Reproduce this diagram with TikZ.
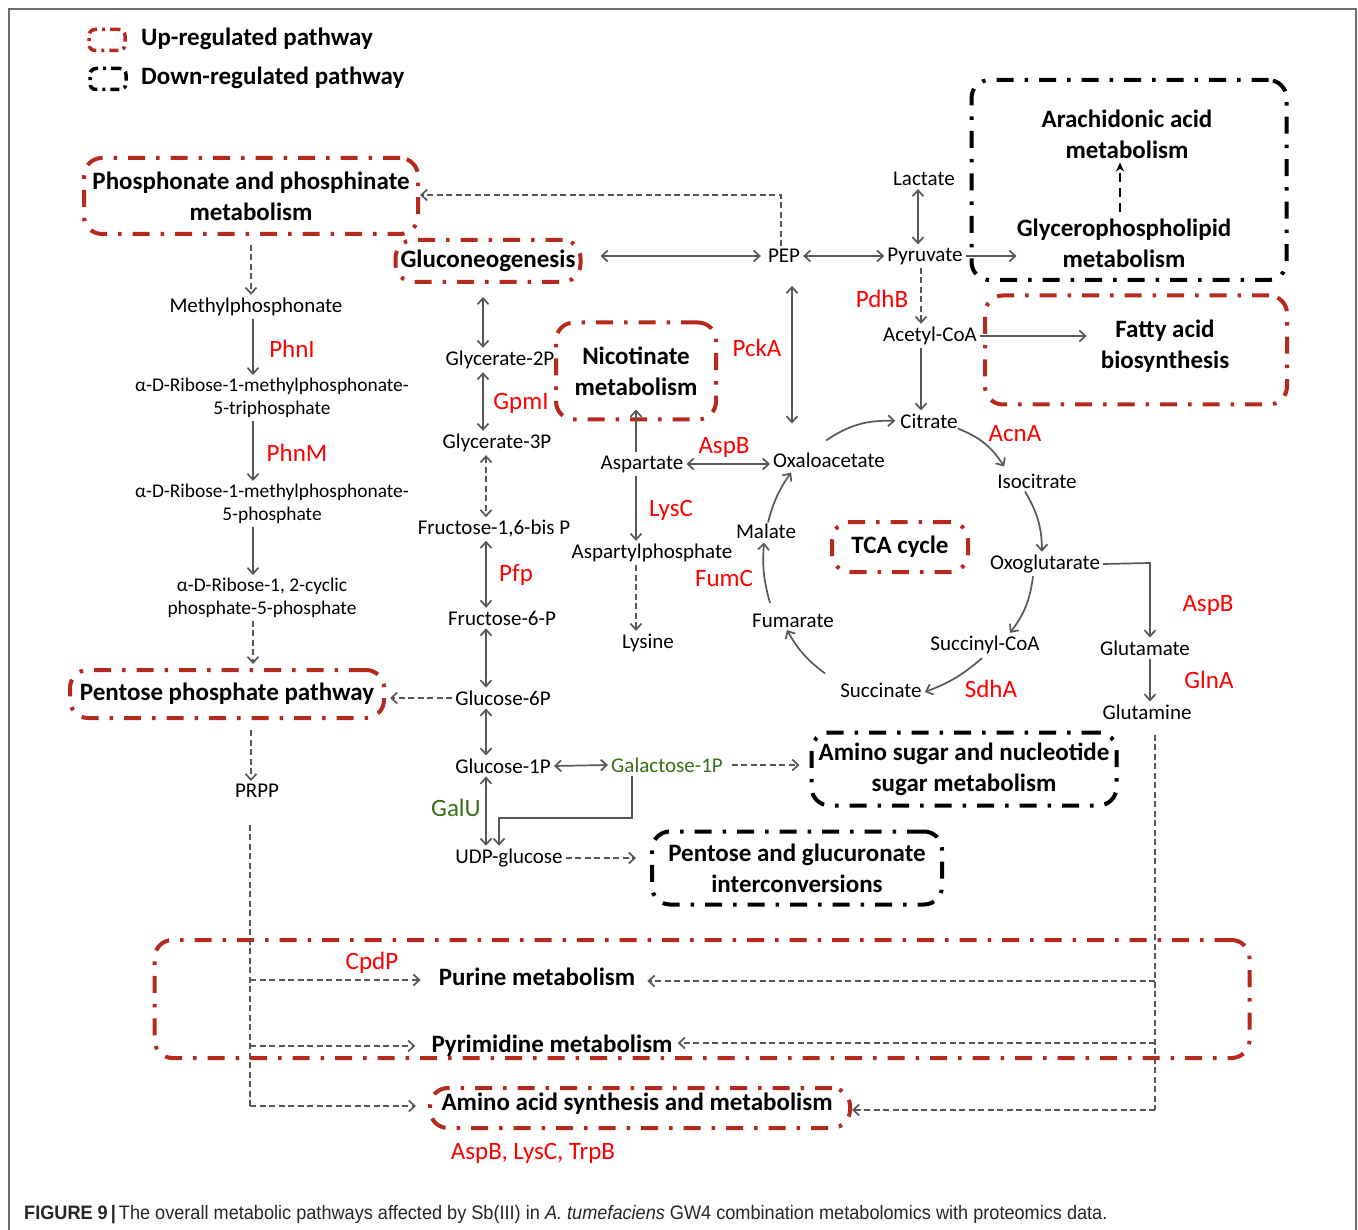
\documentclass[tikz,border=0pt]{standalone}
\usepackage{fontspec}
\setmainfont{Carlito}
\newfontfamily\capfont{Liberation Sans}
\usetikzlibrary{arrows.meta,calc}
\definecolor{boxred}{RGB}{182,42,30}
\definecolor{enzred}{RGB}{255,0,0}
\definecolor{arrgray}{RGB}{88,88,88}
\definecolor{galgreen}{RGB}{56,112,24}
\definecolor{framegray}{RGB}{110,110,110}
\tikzset{gtip/.tip={Straight Barb[length=6pt,width=11pt]},
         btip/.tip={Stealth[length=9pt,width=8pt]}}
\begin{document}
\begin{tikzpicture}[x=1pt,y=-1pt,
 lab/.style={font=\fontsize{21}{24}\selectfont, inner sep=3pt, align=center},
 smlab/.style={font=\fontsize{19.4}{23}\selectfont, inner sep=3pt, align=center},
 enz/.style={text=enzred, font=\fontsize{25}{28}\selectfont, inner sep=0pt},
 grn/.style={text=galgreen},
 pathlab/.style={font=\bfseries\fontsize{25}{31}\selectfont, align=center, inner sep=0pt},
 pbox/.style={pathlab, line width=4pt, dash pattern=on 17pt off 11pt on 3.5pt off 11pt, rounded corners=18pt},
 upbox/.style={pbox, draw=boxred},
 downbox/.style={pbox, draw=black},
 legbox/.style={line width=3.5pt, dash pattern=on 9pt off 5pt on 3pt off 5pt, rounded corners=6pt, inner sep=0pt},
 arr/.style={draw=arrgray, line width=1.7pt, arrows={-gtip}},
 biarr/.style={draw=arrgray, line width=1.7pt, arrows={gtip-gtip}},
 dline/.style={draw=arrgray, line width=1.7pt, dash pattern=on 6pt off 3.5pt},
 darr/.style={arr, dash pattern=on 6pt off 3.5pt},
 dbiarr/.style={biarr, dash pattern=on 6pt off 3.5pt},
]
\useasboundingbox (0,0) rectangle (1358,1230);
\fill[white] (0,0) rectangle (1358,1230);
\draw[framegray, line width=1.2pt] (9,1230) -- (9,9) -- (1356,9) -- (1356,1230);

% legend
\node[legbox, draw=boxred, minimum width=36, minimum height=21] (legup) at (107,40) {};
\node[legbox, draw=black, minimum width=36, minimum height=21] (legdown) at (108,79) {};
\node[pathlab, anchor=west] (legupt) at (141,39) {Up-regulated pathway};
\node[pathlab, anchor=west] (legdownt) at (141,78) {Down-regulated pathway};

% pathway boxes
\node[upbox, minimum width=334, minimum height=76] (phos) at (251,196) {Phosphonate and phosphinate\\metabolism};
\node[upbox, minimum width=185, minimum height=42] (gluco) at (488,261) {Gluconeogenesis};
\node[downbox, minimum width=315, minimum height=200] (arabox) at (1129,180) {};
\node[pathlab] (ara) at (1127,134) {Arachidonic acid\\metabolism};
\node[pathlab] (glyc) at (1124,243) {Glycerophospholipid\\metabolism};
\node[upbox, minimum width=302, minimum height=109] (fabox) at (1136,350) {};
\node[pathlab] (fatty) at (1165,346) {Fatty acid\\biosynthesis};
\node[upbox, minimum width=160, minimum height=97] (nic) at (636,371) {Nicotinate\\metabolism};
\node[upbox, minimum width=136, minimum height=50] (tca) at (900,547) {TCA cycle};
\node[upbox, minimum width=314, minimum height=48] (ppp) at (227,694) {Pentose phosphate pathway};
\node[downbox, minimum width=305, minimum height=73] (amino) at (964,769) {Amino sugar and nucleotide\\sugar metabolism};
\node[downbox, minimum width=290, minimum height=73] (pgbox) at (797,868) {Pentose and glucuronate\\interconversions};
\node[upbox, minimum width=1095, minimum height=118] (nucbox) at (702,999) {};
\node[pathlab] (purine) at (537,977) {Purine metabolism};
\node[pathlab] (pyrim) at (552,1046) {Pyrimidine metabolism};
\node[upbox, minimum width=420, minimum height=40] (aabox) at (640,1108) {};
\node[pathlab] (aa) at (637,1104) {Amino acid synthesis and metabolism};

% left column
\node[lab] (meth) at (256,307) {Methylphosphonate};
\node[smlab] (ribt) at (272,398) {α-D-Ribose-1-methylphosphonate-\\5-triphosphate};
\node[smlab] (ribp) at (272,504) {α-D-Ribose-1-methylphosphonate-\\5-phosphate};
\node[smlab] (ribc) at (262,598) {α-D-Ribose-1, 2-cyclic\\phosphate-5-phosphate};
\node[lab] (prpp) at (257,791) {PRPP};
\node[enz] (phni) at (292,349) {PhnI};
\node[enz] (phnm) at (297,453) {PhnM};

% middle column
\node[lab] (g2p) at (500,360) {Glycerate-2P};
\node[lab] (g3p) at (497,443) {Glycerate-3P};
\node[lab] (f16) at (494,529) {Fructose-1,6-bis P};
\node[lab] (f6p) at (502,618) {Fructose-6-P};
\node[lab] (g6p) at (503,698) {Glucose-6P};
\node[lab] (g1p) at (503,766) {Glucose-1P};
\node[lab] (udp) at (509,858) {UDP-glucose};
\node[lab, grn] (gal) at (667,765) {Galactose-1P};
\node[enz, text=galgreen] (galu) at (456,808) {GalU};
\node[enz] (gpmi) at (521,403) {GpmI};
\node[enz] (pfp) at (516,575) {Pfp};

% right part
\node[lab] (pep) at (784,256) {PEP};
\node[lab] (pyr) at (925,256) {Pyruvate};
\node[lab] (lac) at (924,179) {Lactate};
\node[lab] (acc) at (930,336) {Acetyl-CoA};
\node[lab] (cit) at (929,421) {Citrate};
\node[lab] (iso) at (1037,481) {Isocitrate};
\node[lab] (oxo) at (1045,564) {Oxoglutarate};
\node[lab] (glu) at (1145,648) {Glutamate};
\node[lab] (gln) at (1147,712) {Glutamine};
\node[lab] (suc) at (985,645) {Succinyl-CoA};
\node[lab] (succ) at (881,690) {Succinate};
\node[lab] (fum) at (793,621) {Fumarate};
\node[lab] (mal) at (766,531) {Malate};
\node[lab] (oaa) at (829,460) {Oxaloacetate};
\node[lab] (asp) at (642,464) {Aspartate};
\node[lab] (aspp) at (652,553) {Aspartylphosphate};
\node[lab] (lys) at (648,643) {Lysine};
\node[enz] (pdhb) at (882,299) {PdhB};
\node[enz] (pcka) at (757,348) {PckA};
\node[enz] (aspb1) at (724,447) {AspB};
\node[enz] (lysc) at (671,510) {LysC};
\node[enz] (fumc) at (724,578) {FumC};
\node[enz] (acna) at (1015,434) {AcnA};
\node[enz] (aspb2) at (1208,605) {AspB};
\node[enz] (glna) at (1209,680) {GlnA};
\node[enz] (sdha) at (991,689) {SdhA};
\node[enz] (cpdp) at (372,963) {CpdP};
\node[enz] (aalist) at (533,1153) {AspB, LysC, TrpB};

% helper coordinates
\coordinate (colA) at (253,0);
\coordinate (colB) at (251,0);
\coordinate (colM) at (483,0);
\coordinate (colN) at (486,0);
\coordinate (colL) at (918,0);
\coordinate (colR) at (921,0);
\coordinate (p1) at (250,980);
\coordinate (p2) at (250,1046);
\coordinate (p3) at (250,1106);
\coordinate (q1) at (1155,981);
\coordinate (q2) at (1155,1043);
\coordinate (q3) at (1155,1110);
\coordinate (pk) at (781,195);
\coordinate (gk) at (632,818);
\coordinate (uk) at (499,818);
\coordinate (ok) at (1150,563);
\coordinate (pepx) at (792,0);

% left column connectors
\draw[darr, shorten <=9pt] (phos.south -| colB) -- (meth.north -| colB);
\draw[arr] (meth.south -| colA) -- (ribt.north -| colA);
\draw[arr] (ribt.south -| colA) -- (ribp.north -| colA);
\draw[arr] (ribp.south -| colA) -- (ribc.north -| colA);
\draw[darr, shorten >=4pt] (ribc.south -| colA) -- (ppp.north -| colA);
\draw[darr, shorten <=10pt] (ppp.south -| colB) -- (prpp.north -| colB);
\draw[dline, shorten <=24pt] (prpp.south -| p3) -- (p3);
\draw[darr, shorten >=18pt] (p1) -- (p1 -| purine.west);
\draw[darr, shorten >=16pt] (p2) -- (p2 -| pyrim.west);
\draw[darr, shorten >=12pt] (p3) -- (p3 -| aabox.west);

% glutamine connectors
\draw[dline, shorten <=12pt] (gln.south -| q3) -- (q3);
\draw[darr, shorten >=12pt] (q1) -- (q1 -| purine.east);
\draw[darr, shorten >=5pt] (q2) -- (q2 -| pyrim.east);
\draw[darr] (q3) -- (q3 -| aabox.east);

% glycolysis column
\draw[biarr, shorten <=13pt] (gluco.south -| colM) -- (g2p.north -| colM);
\draw[biarr] (g2p.south -| colM) -- (g3p.north -| colM);
\draw[dbiarr] (g3p.south -| colN) -- (f16.north -| colN);
\draw[biarr] (f16.south -| colN) -- (f6p.north -| colN);
\draw[biarr] (f6p.south -| colN) -- (g6p.north -| colN);
\draw[biarr] (g6p.south -| colN) -- (g1p.north -| colN);
\draw[biarr] (g1p.south -| colN) -- (udp.north -| colN);
\draw[darr, shorten >=4pt] (g6p.west) -- (ppp.east |- g6p.west);
\draw[biarr] (g1p.east) -- (gal.west);
\draw[darr, shorten <=6pt, shorten >=10pt] (gal.east) -- (gal.east -| amino.west);
\draw[arr] (gal.south -| gk) -- (gk) -- (uk) -- (udp.north -| uk);
\draw[darr, shorten >=14pt] (udp.east) -- (udp.east -| pgbox.west);

% PEP area
\draw[biarr, shorten <=18pt, shorten >=4pt] (pep.west -| gluco.east) -- (pep.west);
\draw[darr] (pep.north -| pk) -- (pk) -- (pk -| phos.east);
\draw[biarr] (pep.east) -- (pyr.west);
\draw[biarr] (lac.south -| colL) -- (pyr.north -| colL);
\draw[arr] (pyr.east) -- (pyr.east -| glyc.west);
\draw[black, line width=2.2pt, dash pattern=on 9pt off 6pt, arrows={-btip}, shorten <=6pt, shorten >=4pt] ([xshift=-4pt]glyc.north) -- ([xshift=-4pt]glyc.north |- ara.south);
\draw[darr] (pyr.south -| colR) -- (acc.north -| colR);
\draw[arr, shorten >=14pt] (acc.east) -- (fatty.west |- acc.east);
\draw[arr] (acc.south -| colR) -- (cit.north -| colR);
\draw[biarr, shorten <=20pt, shorten >=26pt] (pep.south -| pepx) -- (oaa.north -| pepx);

% aspartate
\draw[arr, shorten >=-12pt] (asp.north -| nic.south) -- (nic.south);
\draw[biarr] (asp.east) -- (asp.east -| oaa.west);
\draw[arr] (asp.south -| nic.south) -- (aspp.north -| nic.south);
\draw[darr] (aspp.south -| nic.south) -- (lys.north -| nic.south);

% TCA cycle
\draw[arr] ([xshift=-3pt,yshift=9pt]oaa.north) to[bend left=18] ([xshift=-2pt]cit.west);
\draw[arr] ([xshift=-3pt,yshift=3pt]cit.south east) to[bend left=18] ([xshift=10pt,yshift=4pt]iso.north west);
\draw[arr] ([xshift=-12pt]iso.south) to[bend left=15] ([xshift=-3pt]oxo.north);
\draw[arr] ([xshift=-12pt]oxo.south) to[bend left=15] ([xshift=25pt]suc.north);
\draw[arr] ([xshift=-3pt,yshift=-1pt]suc.south) to[bend left=10] ([yshift=-2pt]succ.east);
\draw[arr] ([xshift=-12pt,yshift=6pt]succ.north west) to[bend left=12] ([xshift=-6pt,yshift=1pt]fum.south);
\draw[arr] ([xshift=-23pt,yshift=8pt]fum.north) to[bend left=10] ([xshift=-2pt,yshift=-1pt]mal.south);
\draw[arr] ([xshift=2pt,yshift=-2pt]mal.north) to[bend left=10] ([xshift=-38pt,yshift=-2pt]oaa.south);

% glutamate
\draw[arr] (oxo.east) -- (ok) -- (glu.north -| ok);
\draw[arr] (glu.south -| ok) -- (gln.north -| ok);

% caption
\node[anchor=west, inner sep=0pt, font=\capfont\fontsize{19.5}{21}\selectfont, text=black!85] (cap) at (24,1215)
 {\scalebox{0.93}[1]{\textbf{FIGURE 9}\,\textbf{|}\,The overall metabolic pathways affected by Sb(III) in \textit{A. tumefaciens} GW4 combination metabolomics with proteomics data.}};
\end{tikzpicture}
\end{document}
